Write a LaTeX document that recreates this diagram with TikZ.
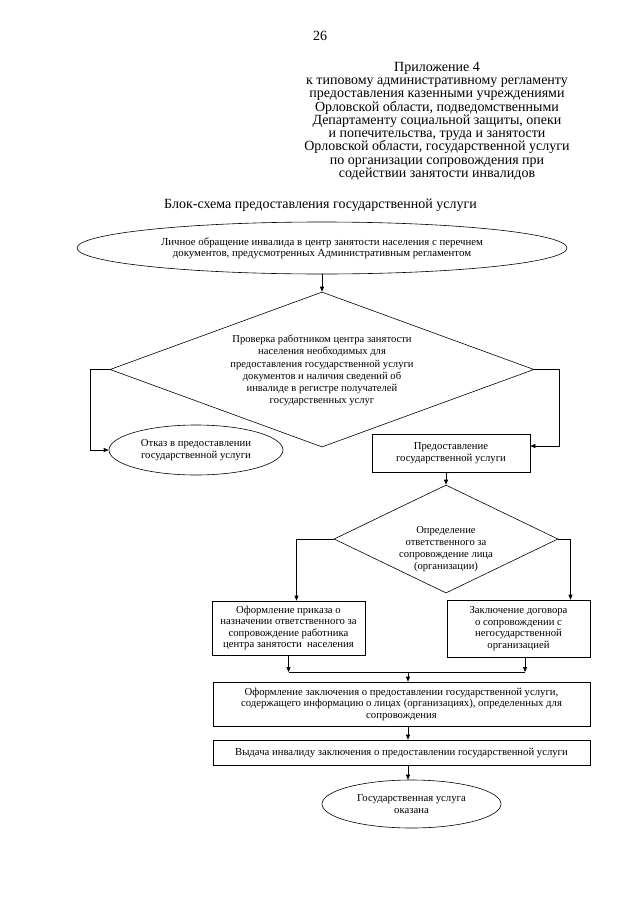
\documentclass[tikz,border=0pt]{standalone}
\usepackage{fontspec}
\setmainfont{Liberation Serif}
\usetikzlibrary{shapes.geometric,arrows.meta}
\begin{document}
\begin{tikzpicture}[x=1pt,y=-1pt,
  every node/.style={inner sep=0pt, font=\fontsize{10.7}{11.5}\selectfont},
  hdrfont/.style={font=\fontsize{14}{13.25}\selectfont},
  dfont/.style={font=\fontsize{10.6}{12.2}\selectfont},
  oval/.style={draw, ellipse, line width=0.6pt, align=center},
  rbox/.style={draw, rectangle, line width=0.6pt, align=center},
  rhomb/.style={draw, diamond, line width=0.6pt},
  arr/.style={-{Triangle[length=5pt,width=4pt]}, line width=0.6pt},
  ln/.style={line width=0.6pt}]
\useasboundingbox (0,0) rectangle (639,905);
\fill[white] (0,0) rectangle (639,905);

\node[hdrfont] (pg) at (320,36) {26};
\node[hdrfont, align=center, anchor=north] (hdr) at (437,62) {Приложение 4\\
к типовому административному регламенту\\
предоставления казенными учреждениями\\
Орловской области, подведомственными\\
Департаменту социальной защиты, опеки\\
и попечительства, труда и занятости\\
Орловской области, государственной услуги\\
по организации сопровождения при\\
содействии занятости инвалидов};
\node[hdrfont, anchor=west] (ttl) at (164,205) {Блок-схема предоставления государственной услуги};

\node[oval, font=\fontsize{10.8}{11}\selectfont, minimum width=490pt, minimum height=52pt] (e1) at (322,248)
  {Личное обращение инвалида в центр занятости населения с перечнем\\
   документов, предусмотренных Административным регламентом};

\node[rhomb, minimum width=424pt, minimum height=155pt] (d1) at (322,369.5) {};
\node[dfont, align=center] (d1t) at ([yshift=-1pt]d1.center)
  {Проверка работником центра занятости\\
   населения необходимых для\\
   предоставления государственной услуги\\
   документов и наличия сведений об\\
   инвалиде в регистре получателей\\
   государственных услуг};

\node[oval, minimum width=174pt, minimum height=50pt] (e2) at (196,450)
  {Отказ в предоставлении\\государственной услуги};

\node[rbox, minimum width=158pt, minimum height=38pt] (b1) at (451,453)
  {Предоставление\\государственной услуги};

\node[rhomb, minimum width=224pt, minimum height=108pt] (d2) at (446,539) {};
\node[dfont, align=center] (d2t) at ([yshift=-10pt]d2.center)
  {Определение\\ответственного за\\сопровождение лица\\(организации)};

\node[rbox, minimum width=153pt, minimum height=54pt] (b2) at (288.5,628)
  {Оформление приказа о\\назначении ответственного за\\сопровождение работника\\центра занятости\ \ населения};
\node[rbox, minimum width=143pt, minimum height=57pt] (b3) at (518.5,628.5)
  {Заключение договора\\о сопровождении с\\негосударственной\\организацией};

\coordinate (m) at (408,672);

\node[rbox, minimum width=377pt, minimum height=44pt] (b4) at (401.5,704)
  {Оформление заключения о предоставлении государственной услуги,\\
   содержащего информацию о лицах (организациях), определенных для\\
   сопровождения};
\node[rbox, minimum width=377pt, minimum height=25pt] (b5) at (401.5,752.5)
  {Выдача инвалиду заключения о предоставлении государственной услуги};
\node[oval, minimum width=179pt, minimum height=48pt] (e3) at (411.5,804)
  {Государственная услуга\\оказана};

% connectors
\draw[arr] (d1.north |- e1.south) -- (d1.north);
\draw[arr] (d1.west) -- ++(-19,0) |- (e2.west);
\draw[arr] (d1.east) -- ++(25,0) |- ([yshift=7pt]b1.east);
\draw[arr] (d2.north |- b1.south) -- (d2.north);
\draw[arr] (d2.west) -| ([xshift=8pt]b2.north);
\draw[arr] (d2.east) -| ([xshift=52pt]b3.north);
\draw[arr] (b2.south) -- (b2.south |- m);
\draw[arr] ([xshift=6.5pt]b3.south) -- ([xshift=6.5pt]b3.south |- m);
\draw[ln] (b2.south |- m) -- ([xshift=6.5pt]b3.south |- m);
\draw[arr] (m) -- (m |- b4.north);
\draw[arr] (m |- b4.south) -- (m |- b5.north);
\draw[arr] (m |- b5.south) -- (m |- e3.north);
\end{tikzpicture}
\end{document}
